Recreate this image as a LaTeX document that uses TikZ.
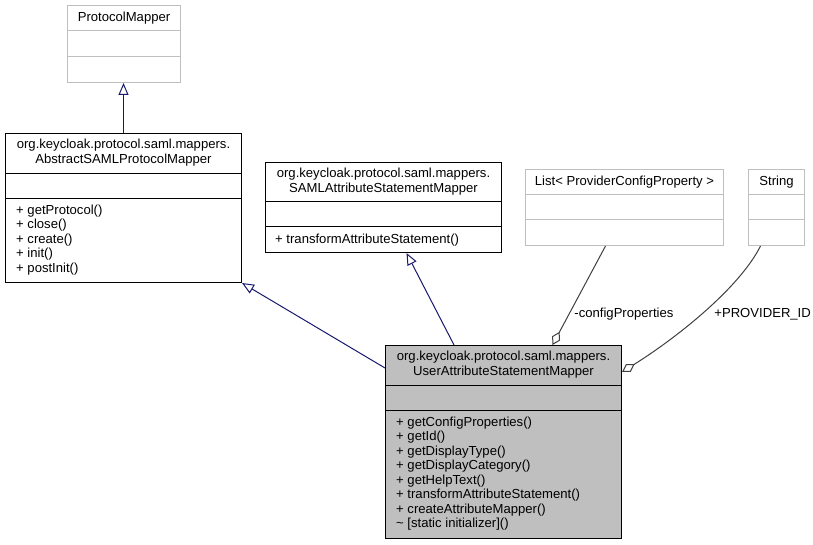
\documentclass[tikz,border=0pt]{standalone}
\usepackage{fontspec}
\setmainfont{Liberation Sans}
\usepackage{tikz}
\usetikzlibrary{arrows.meta, calc}
\definecolor{clsgrey}{HTML}{BFBFBF}
\definecolor{edgenavy}{HTML}{191970}
\definecolor{edgegrey}{HTML}{404040}
\tikzset{
  cls/.style={rectangle, draw=black, line width=1pt, inner sep=0pt, anchor=north west},
  clsfaint/.style={cls, draw=clsgrey},
  partline/.style={line width=1pt},
  umltext/.style={inner sep=0pt, font=\fontsize{13.1}{14.5}\selectfont},
  clstitle/.style={umltext, anchor=north, align=center, execute at begin node=\rule{0pt}{10pt}},
  clsops/.style={umltext, anchor=north west, align=left, execute at begin node=\rule{0pt}{10pt}},
  edgelbl/.style={umltext, anchor=base west},
  inherit/.style={-{Triangle[open, length=12pt, width=10pt]}, draw=edgenavy, line width=1pt},
  aggr/.style={-{Diamond[open, length=15pt, width=9pt]}, draw=edgegrey, line width=1pt}
}

\begin{document}
\begin{tikzpicture}[x=1pt, y=-1pt]
    \path[use as bounding box, fill=white] (0,0) rectangle (813,545);

    % base classes
    \node[clsfaint, minimum width=113pt, minimum height=77pt] (pm) at (67,5) {};
    \draw[partline, clsgrey] ([yshift=-26pt]pm.north west) -- ([yshift=-26pt]pm.north east);
    \draw[partline, clsgrey] ([yshift=-52pt]pm.north west) -- ([yshift=-52pt]pm.north east);
    \node[clstitle] (pm-name) at ([yshift=-6pt]pm.north) {ProtocolMapper};

    \node[cls, minimum width=236pt, minimum height=149pt] (absm) at (5,133) {};
    \draw[partline] ([yshift=-40.5pt]absm.north west) -- ([yshift=-40.5pt]absm.north east);
    \draw[partline] ([yshift=-65.5pt]absm.north west) -- ([yshift=-65.5pt]absm.north east);
    \node[clstitle] (absm-name) at ([yshift=-6pt]absm.north) {org.keycloak.protocol.saml.mappers.\\AbstractSAMLProtocolMapper};
    \node[clsops] (absm-ops) at ([xshift=11pt, yshift=-71.5pt]absm.north west) {+ getProtocol()\\+ close()\\+ create()\\+ init()\\+ postInit()};

    \node[cls, minimum width=236pt, minimum height=90pt] (samlm) at (265,162) {};
    \draw[partline] ([yshift=-40pt]samlm.north west) -- ([yshift=-40pt]samlm.north east);
    \draw[partline] ([yshift=-65pt]samlm.north west) -- ([yshift=-65pt]samlm.north east);
    \node[clstitle] (samlm-name) at ([yshift=-6pt]samlm.north) {org.keycloak.protocol.saml.mappers.\\SAMLAttributeStatementMapper};
    \node[clsops] (samlm-ops) at ([xshift=10pt, yshift=-71pt]samlm.north west) {+ transformAttributeStatement()};

    % used types
    \node[clsfaint, minimum width=198pt, minimum height=76pt] (listp) at (525,169) {};
    \draw[partline, clsgrey] ([yshift=-25.5pt]listp.north west) -- ([yshift=-25.5pt]listp.north east);
    \draw[partline, clsgrey] ([yshift=-51pt]listp.north west) -- ([yshift=-51pt]listp.north east);
    \node[clstitle] (listp-name) at ([yshift=-6pt]listp.north) {List< ProviderConfigProperty >};

    \node[clsfaint, minimum width=56pt, minimum height=76pt] (strg) at (748,169) {};
    \draw[partline, clsgrey] ([yshift=-25.5pt]strg.north west) -- ([yshift=-25.5pt]strg.north east);
    \draw[partline, clsgrey] ([yshift=-51pt]strg.north west) -- ([yshift=-51pt]strg.north east);
    \node[clstitle] (strg-name) at ([yshift=-6pt]strg.north) {String};

    % the mapper itself
    \node[cls, fill=clsgrey, minimum width=236pt, minimum height=193pt] (uasm) at (385,345) {};
    \draw[partline] ([yshift=-40.5pt]uasm.north west) -- ([yshift=-40.5pt]uasm.north east);
    \draw[partline] ([yshift=-65.5pt]uasm.north west) -- ([yshift=-65.5pt]uasm.north east);
    \node[clstitle] (uasm-name) at ([yshift=-6pt]uasm.north) {org.keycloak.protocol.saml.mappers.\\UserAttributeStatementMapper};
    \node[clsops] (uasm-ops) at ([xshift=11pt, yshift=-71.5pt]uasm.north west) {+ getConfigProperties()\\+ getId()\\+ getDisplayType()\\+ getDisplayCategory()\\+ getHelpText()\\+ transformAttributeStatement()\\+ createAttributeMapper()\\\textasciitilde\ [static initializer]()};

    % relations
    \draw[inherit] (absm.north) -- (absm.north |- pm.south);
    \draw[inherit] ([yshift=-23pt]uasm.north west) -- (absm.south east);
    \draw[inherit] ([xshift=69pt]uasm.north west) -- ([xshift=23pt]samlm.south);
    \draw[aggr] ([xshift=-19pt]listp.south) -- node[edgelbl, pos=0.69, xshift=5pt, yshift=-2.7pt] (cfg-lbl) {-configProperties} ([xshift=167.5pt]uasm.north west);
    \draw[aggr] ([xshift=-16pt]strg.south) .. controls +(-20,40) and +(59,-37) .. node[edgelbl, pos=0.5, xshift=8pt, yshift=-7pt] (pid-lbl) {+PROVIDER\_ID} ([yshift=-27pt]uasm.north east);
\end{tikzpicture}
\end{document}
